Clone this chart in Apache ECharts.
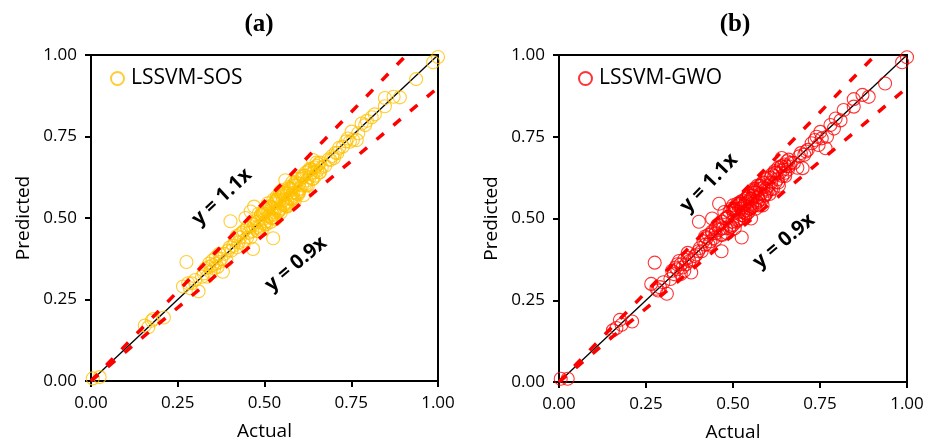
<!DOCTYPE html>
<html>
<head>
<meta charset="utf-8">
<script src="https://cdn.jsdelivr.net/npm/echarts@6/dist/echarts.min.js"></script>
<style>html,body{margin:0;padding:0;background:#fff}#c{width:930px;height:444px}</style>
</head>
<body>
<div id="c"></div>
<script>
// ---- data ----
const actual = [
  0.005, 0.025,
  0.155, 0.165, 0.175, 0.18, 0.21,
  0.265, 0.275, 0.28, 0.285, 0.29, 0.30, 0.31, 0.32,
  0.325, 0.33, 0.335, 0.34, 0.34, 0.345, 0.35, 0.35, 0.355, 0.36, 0.36, 0.365, 0.37, 0.37, 0.375, 0.38, 0.385, 0.39, 0.395, 0.40,
  0.402, 0.405, 0.41, 0.415, 0.42, 0.42, 0.425, 0.43, 0.435, 0.44, 0.44, 0.445, 0.45, 0.45, 0.455, 0.46, 0.46, 0.465, 0.467, 0.47, 0.47, 0.475,
  0.478, 0.480, 0.483, 0.486, 0.490, 0.492, 0.495, 0.498, 0.500, 0.502, 0.505, 0.508, 0.510, 0.512, 0.515, 0.518, 0.520, 0.522, 0.525, 0.525,
  0.528, 0.530, 0.532, 0.535, 0.537, 0.540, 0.542, 0.545, 0.547, 0.550, 0.552, 0.555, 0.557, 0.560, 0.562, 0.565, 0.567, 0.570, 0.572, 0.575,
  0.577, 0.580, 0.582, 0.585, 0.587, 0.590, 0.592, 0.595, 0.597, 0.600, 0.505, 0.515, 0.535, 0.545, 0.555, 0.565, 0.575, 0.585, 0.545, 0.525,
  0.602, 0.605, 0.608, 0.61, 0.612, 0.615, 0.618, 0.62, 0.622, 0.625, 0.628, 0.63, 0.632, 0.635, 0.638, 0.64, 0.642, 0.645, 0.648, 0.65, 0.652, 0.655, 0.658, 0.66, 0.665,
  0.675, 0.685, 0.69, 0.695, 0.70, 0.705, 0.71, 0.715,
  0.726, 0.735, 0.74, 0.746, 0.751, 0.755, 0.766, 0.77,
  0.78, 0.79, 0.795, 0.809, 0.818,
  0.847, 0.847, 0.872, 0.89,
  0.937, 0.986, 1.0,
  0.43, 0.44, 0.45, 0.46, 0.47, 0.48, 0.49, 0.50, 0.51, 0.52, 0.53, 0.54, 0.55, 0.56, 0.57, 0.58, 0.59, 0.60, 0.61, 0.62,
  0.63, 0.64, 0.65, 0.66, 0.485, 0.495, 0.505, 0.515, 0.525, 0.535, 0.545, 0.555, 0.565, 0.575, 0.585, 0.595, 0.50, 0.52, 0.54, 0.56
];
const predSOS = [
  0.008, 0.012,
  0.17, 0.165, 0.185, 0.19, 0.195,
  0.29, 0.365, 0.30, 0.285, 0.30, 0.31, 0.275, 0.32,
  0.33, 0.345, 0.32, 0.35, 0.36, 0.335, 0.355, 0.37, 0.345, 0.36, 0.38, 0.35, 0.39, 0.365, 0.375, 0.335, 0.39, 0.37, 0.40, 0.41,
  0.49, 0.40, 0.415, 0.43, 0.41, 0.445, 0.425, 0.44, 0.455, 0.43, 0.46, 0.50, 0.44, 0.47, 0.455, 0.475, 0.52, 0.46, 0.405, 0.48, 0.535, 0.47,
  0.488, 0.460, 0.513, 0.476, 0.510, 0.462, 0.495, 0.513, 0.485, 0.527, 0.480, 0.513, 0.545, 0.507, 0.535, 0.488, 0.530, 0.502, 0.438, 0.555,
  0.518, 0.545, 0.497, 0.555, 0.532, 0.565, 0.522, 0.555, 0.517, 0.585, 0.552, 0.540, 0.577, 0.616, 0.537, 0.575, 0.537, 0.595, 0.562, 0.590,
  0.557, 0.610, 0.577, 0.605, 0.552, 0.600, 0.577, 0.620, 0.572, 0.605, 0.525, 0.505, 0.565, 0.525, 0.570, 0.535, 0.585, 0.560, 0.580, 0.530,
  0.59, 0.62, 0.60, 0.625, 0.57, 0.63, 0.605, 0.64, 0.615, 0.60, 0.645, 0.625, 0.635, 0.65, 0.62, 0.678, 0.64, 0.655, 0.63, 0.66, 0.645, 0.665, 0.64, 0.67, 0.655,
  0.66, 0.68, 0.678, 0.69, 0.684, 0.70, 0.699, 0.715,
  0.719, 0.735, 0.744, 0.734, 0.765, 0.74, 0.739, 0.76,
  0.79, 0.785, 0.798, 0.809, 0.818,
  0.868, 0.843, 0.872, 0.87,
  0.926, 0.978, 0.994,
  0.45, 0.42, 0.47, 0.44, 0.49, 0.46, 0.51, 0.48, 0.53, 0.50, 0.55, 0.52, 0.57, 0.54, 0.59, 0.56, 0.61, 0.58, 0.63, 0.60,
  0.65, 0.62, 0.67, 0.64, 0.47, 0.515, 0.49, 0.535, 0.51, 0.555, 0.53, 0.575, 0.55, 0.56, 0.60, 0.575, 0.52, 0.50, 0.56, 0.545
];
const predGWO = [
  0.01, 0.01,
  0.158, 0.165, 0.19, 0.175, 0.185,
  0.30, 0.365, 0.285, 0.28, 0.29, 0.305, 0.27, 0.315,
  0.34, 0.33, 0.35, 0.36, 0.345, 0.37, 0.33, 0.36, 0.35, 0.375, 0.34, 0.36, 0.38, 0.395, 0.37, 0.335, 0.375, 0.385, 0.39, 0.40,
  0.49, 0.41, 0.40, 0.43, 0.445, 0.42, 0.44, 0.45, 0.43, 0.46, 0.50, 0.44, 0.47, 0.455, 0.48, 0.545, 0.465, 0.45, 0.40, 0.49, 0.47, 0.52,
  0.500, 0.470, 0.455, 0.505, 0.520, 0.478, 0.530, 0.490, 0.540, 0.515, 0.470, 0.530, 0.495, 0.545, 0.520, 0.500, 0.550, 0.530, 0.442, 0.510,
  0.555, 0.520, 0.540, 0.505, 0.560, 0.525, 0.550, 0.575, 0.530, 0.560, 0.500, 0.545, 0.570, 0.590, 0.540, 0.580, 0.555, 0.600, 0.565, 0.540,
  0.590, 0.575, 0.605, 0.560, 0.595, 0.610, 0.570, 0.590, 0.620, 0.585, 0.525, 0.540, 0.545, 0.520, 0.560, 0.530, 0.600, 0.540, 0.565, 0.535,
  0.60, 0.575, 0.625, 0.61, 0.635, 0.59, 0.63, 0.645, 0.61, 0.64, 0.62, 0.655, 0.60, 0.64, 0.66, 0.685, 0.63, 0.65, 0.665, 0.64, 0.66, 0.675, 0.65, 0.66, 0.67,
  0.67, 0.655, 0.69, 0.70, 0.654, 0.695, 0.705, 0.71,
  0.73, 0.74, 0.75, 0.725, 0.765, 0.745, 0.715, 0.75,
  0.786, 0.775, 0.806, 0.80, 0.832,
  0.865, 0.842, 0.878, 0.872,
  0.913, 0.978, 0.993,
  0.42, 0.455, 0.435, 0.48, 0.45, 0.50, 0.47, 0.525, 0.49, 0.545, 0.51, 0.565, 0.53, 0.585, 0.55, 0.60, 0.57, 0.625, 0.59, 0.64,
  0.61, 0.66, 0.63, 0.68, 0.505, 0.475, 0.53, 0.495, 0.55, 0.515, 0.57, 0.535, 0.59, 0.555, 0.61, 0.575, 0.48, 0.545, 0.515, 0.58
];
const lineIdeal = [[0, 0], [1, 1]];
const lineUpper = [[0, 0], [1 / 1.1, 1]];
const lineLower = [[0, 0], [1, 0.9]];
const tickLabels = ['0.00', '0.25', '0.50', '0.75', '1.00'];
const panels = [
  { title: '(a)', name: 'LSSVM-SOS', color: '#FFC000', pred: predSOS },
  { title: '(b)', name: 'LSSVM-GWO', color: '#FF0000', pred: predGWO }
];

// ---- layout ----
const grids = [
  { left: 91, top: 55, width: 347, height: 326 },
  { left: 559, top: 55, width: 348, height: 327 }
];
const FONT = '"Open Sans", "Noto Sans", sans-serif';
function fmt(v) { return tickLabels[Math.round(v / 0.25)]; }

const xAxis = [], yAxis = [], series = [], legend = [];
grids.forEach((g, i) => {
  const base = {
    gridIndex: i, type: 'value', min: 0, max: 1, interval: 0.25,
    axisLine: { show: true, onZero: false, lineStyle: { color: '#000', width: 2 } },
    axisTick: { show: true, inside: false, length: 6, lineStyle: { color: '#000', width: 2 } },
    axisLabel: { color: '#000', fontSize: 17, fontFamily: FONT, margin: 14, formatter: fmt },
    splitLine: { show: false },
    nameLocation: 'middle',
    nameTextStyle: { color: '#000', fontSize: 19, fontFamily: FONT }
  };
  xAxis.push(Object.assign({}, base, { name: 'Actual', nameGap: 41 }));
  yAxis.push(Object.assign({}, base, { name: 'Predicted', nameGap: 58 }));
  const p = panels[i];
  series.push({
    type: 'line', xAxisIndex: i, yAxisIndex: i, data: lineIdeal, symbol: 'none', z: 1,
    lineStyle: { color: '#000', width: 1.3 }, silent: true
  });
  series.push({
    type: 'scatter', name: p.name, xAxisIndex: i, yAxisIndex: i, z: 2,
    data: actual.map((a, k) => [a, p.pred[k]]),
    symbol: 'circle', symbolSize: 13,
    itemStyle: { color: 'rgba(0,0,0,0)', borderColor: p.color, borderWidth: 1.1 }
  });
  [lineUpper, lineLower].forEach(d => series.push({
    type: 'line', xAxisIndex: i, yAxisIndex: i, data: d, symbol: 'none', z: 3,
    lineStyle: { color: '#FF0000', width: 3.5, type: [9.5, 12.5] }, silent: true
  }));
  legend.push({
    data: [p.name], left: g.left + 19, top: 68, orient: 'vertical', padding: 0,
    icon: 'circle', itemWidth: 13, itemHeight: 13, itemGap: 6,
    textStyle: { color: '#000', fontSize: 21, fontFamily: FONT, padding: [0, 0, 0, 2] }
  });
});

const deg = Math.PI / 180;
function label(text, x, y, rotDeg, font) {
  return {
    type: 'text', x: x, y: y, rotation: rotDeg * deg,
    style: { text: text, font: font, fill: '#000', textAlign: 'center', textVerticalAlign: 'middle', align: 'center', verticalAlign: 'middle' }
  };
}
const BOLD = 'bold 20px ' + FONT;
const TITLE = 'bold 25px "Liberation Serif", "Times New Roman", serif';

const chart = echarts.init(document.getElementById('c'), null, { renderer: 'canvas' });
chart.setOption({
  animation: false,
  backgroundColor: '#fff',
  grid: grids.map(g => Object.assign({ show: true, borderColor: '#000', borderWidth: 2, backgroundColor: 'transparent', containLabel: false, outerBoundsMode: 'none' }, g)),
  xAxis: xAxis,
  yAxis: yAxis,
  legend: legend,
  series: series,
  graphic: [
    label('(a)', 259, 25, 0, TITLE),
    label('(b)', 735, 25, 0, TITLE),
    label('y = 1.1x', 222, 197, 43, BOLD),
    label('y = 0.9x', 296, 264, 40, BOLD),
    label('y = 1.1x', 709, 183, 46, BOLD),
    label('y = 0.9x', 784, 241, 40, BOLD)
  ]
});
</script>
</body>
</html>
